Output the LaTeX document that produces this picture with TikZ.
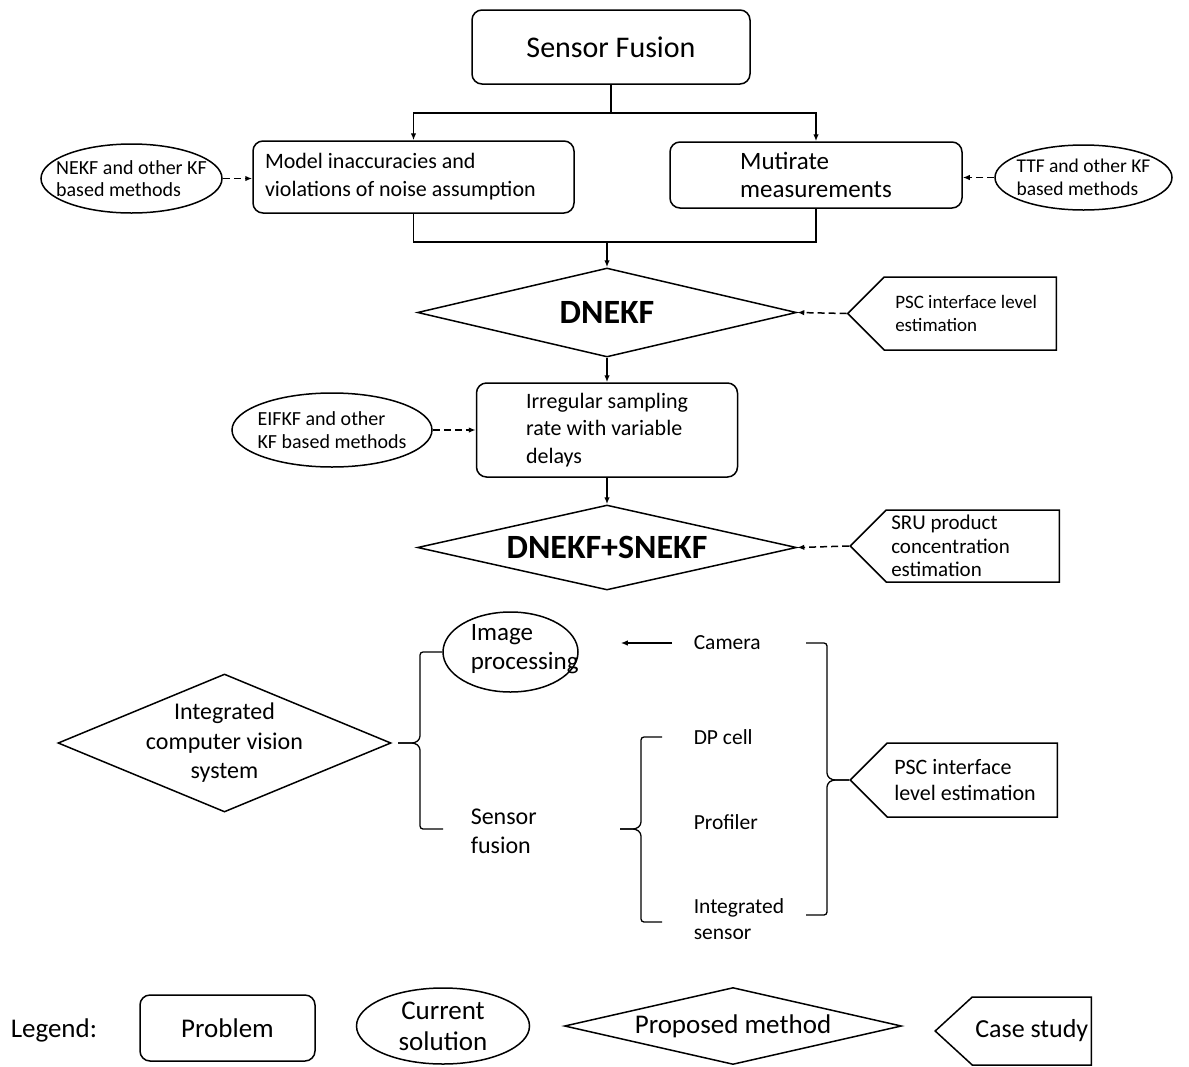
\documentclass[tikz,border=0pt]{standalone}
\usepackage{fontspec}
\setmainfont{Carlito}
\usetikzlibrary{
    shapes.geometric,
    shapes.symbols,
    arrows.meta,
    positioning
}

\begin{document}
\begin{tikzpicture}[
        x=1pt, y=-1pt, line width=1.5pt,
        problem/.style={rectangle, draw, rounded corners=10pt, inner ysep=0pt, align=flush left, font=\fontsize{22}{28}\selectfont},
        solution/.style={ellipse, draw, inner ysep=-8pt, inner xsep=-16pt, align=flush left, font=\fontsize{20}{22.5}\selectfont},
        method/.style={diamond, draw, inner sep=-10pt, align=center, font=\fontsize{32}{36}\selectfont},
        case_study/.style={signal, signal to=west, signal pointer angle=90, draw, inner ysep=0pt, align=flush left, font=\fontsize{19}{23}\selectfont},
        plain_text/.style={inner sep=0pt, align=flush left, anchor=west, font=\fontsize{21.5}{26}\selectfont},
        main_flow_arrow/.style={-{Latex[length=7pt, width=5.5pt]}},
        side_flow_arrow/.style={-{Latex[length=7pt, width=5.5pt]}, dash pattern=on 7pt off 4pt},
        bracket_line/.style={line width=1.3pt, rounded corners=3pt}
    ]

    \useasboundingbox (0,0) rectangle (1189,1066);

    % upper flow
    \node[problem, minimum width=278pt, minimum height=74pt, font=\fontsize{30}{36}\selectfont] (sensor_fusion) at (611,47) {Sensor Fusion};
    \node[problem, text width=297pt, inner xsep=12pt, minimum height=72pt] (model) at (413.5,177) {Model inaccuracies and\\violations of noise assumption};
    \node[problem, minimum width=292pt, minimum height=66pt, font=\fontsize{25}{28}\selectfont] (multirate) at (816,175) {Mutirate\\measurements};
    \node[solution, minimum width=181pt, minimum height=69pt] (nekf) at (131.5,178.5) {NEKF and other KF\\based methods};
    \node[solution, minimum width=177pt, minimum height=65pt, font=\fontsize{19.5}{22.5}\selectfont] (ttf) at (1083.5,177.5) {TTF and other KF\\based methods};
    \node[method, aspect=4.3, minimum width=379pt, minimum height=89pt, font=\bfseries\fontsize{34}{38}\selectfont] (dnekf) at (607,312.5) {DNEKF};
    \node[case_study, text width=150pt, inner xsep=11pt, minimum height=73pt, anchor=east] (psc_level) at (1057,313.5) {PSC interface level\\estimation};
    \node[problem, minimum width=261pt, minimum height=94pt, font=\fontsize{22}{27.5}\selectfont] (irregular) at (607,430) {Irregular sampling\\rate with variable\\delays};
    \node[solution, minimum width=200pt, minimum height=74pt] (eifkf) at (332,430) {EIFKF and other\\KF based methods};
    \node[method, aspect=4.5, minimum width=379pt, minimum height=85pt, font=\bfseries\fontsize{34}{38}\selectfont] (dnekf_snekf) at (607,547.5) {DNEKF+SNEKF};
    \node[case_study, text width=163pt, inner xsep=5pt, minimum height=72pt, anchor=east, font=\fontsize{21}{23.5}\selectfont] (sru) at (1060,546) {SRU product\\concentration\\estimation};

    \draw (sensor_fusion.south) -- ++(0,28) coordinate (split);
    \draw[main_flow_arrow] (split) -| (model.north);
    \draw[main_flow_arrow] (split) -| (multirate.north);
    \coordinate (merge) at (dnekf.north |- 0,242);
    \draw (model.south) |- (merge) -| (multirate.south);
    \draw[main_flow_arrow] (merge) -- (dnekf.north);
    \draw[side_flow_arrow] (nekf.east) -- (nekf.east -| model.west);
    \draw[side_flow_arrow] (ttf.west) -- (ttf.west -| multirate.east);
    \draw[side_flow_arrow] (psc_level.west) -- (dnekf.east);
    \draw[main_flow_arrow] (dnekf.south) -- (irregular.north);
    \draw[side_flow_arrow] (eifkf.east) -- (eifkf.east -| irregular.west);
    \draw[main_flow_arrow] (irregular.south) -- (dnekf_snekf.north);
    \draw[side_flow_arrow] (sru.west) -- (dnekf_snekf.east);

    % vision system
    \node[method, aspect=2.4, minimum width=333pt, minimum height=138pt, font=\fontsize{24}{29.5}\selectfont] (vision_system) at (224.5,743) {Integrated\\computer vision\\system};
    \node[solution, minimum width=135pt, minimum height=80pt] (imgproc) at (510.5,652) {};
    \node[plain_text, font=\fontsize{25}{29}\selectfont] (imgproc_text) at (470,649) {Image\\processing};
    \node[plain_text, font=\fontsize{24}{29}\selectfont] (fusion_text) at (470,831) {Sensor\\fusion};
    \node[plain_text] (camera) at (693,643) {Camera};
    \node[plain_text] (dp_cell) at (693,737) {DP cell};
    \node[plain_text] (profiler) at (693,822) {Profiler};
    \node[plain_text] (int_sensor) at (693,919) {Integrated\\sensor};
    \node[case_study, text width=156pt, inner xsep=7pt, minimum height=74pt, anchor=east, font=\fontsize{22}{26}\selectfont] (psc_vision) at (1058,780) {PSC interface\\level estimation};

    \draw[main_flow_arrow, shorten <=21pt, shorten >=42pt] (camera.west) -- (camera.west -| imgproc.east);

    \coordinate (vision_tip) at (398,743);
    \draw[bracket_line] (imgproc.west) -| (420,739) -- (415,743) -- (vision_tip);
    \draw[bracket_line] (vision_tip) -- (415,743) -- (420,747) |- (443,829);
    \coordinate (fusion_tip) at (620,829);
    \draw[bracket_line] (662,737) -| (641,825) -- (636,829) -- (fusion_tip);
    \draw[bracket_line] (fusion_tip) -- (636,829) -- (641,833) |- (662,922);
    \draw[bracket_line] (806,643) -| (827,776) -- (832,780) -- (psc_vision.west);
    \draw[bracket_line] (psc_vision.west) -- (832,780) -- (827,784) |- (806,915);

    % legend
    \node[plain_text, font=\fontsize{27}{31}\selectfont] (legend) at (10,1030) {Legend:};
    \node[problem, minimum width=175pt, minimum height=66pt, font=\fontsize{27}{31}\selectfont] (legend_problem) at (227.5,1028) {Problem};
    \node[solution, minimum width=173pt, minimum height=76pt, align=center, font=\fontsize{27}{31}\selectfont] (legend_solution) at (443,1026) {Current\\solution};
    \node[method, aspect=4.4, minimum width=337pt, minimum height=77pt, font=\fontsize{27}{31}\selectfont] (legend_method) at (733,1026) {Proposed method};
    \node[case_study, signal pointer angle=85, inner xsep=3pt, align=center, minimum height=68pt, anchor=east, font=\fontsize{26}{31}\selectfont] (legend_case) at (1092,1031) {Case study};

\end{tikzpicture}
\end{document}
